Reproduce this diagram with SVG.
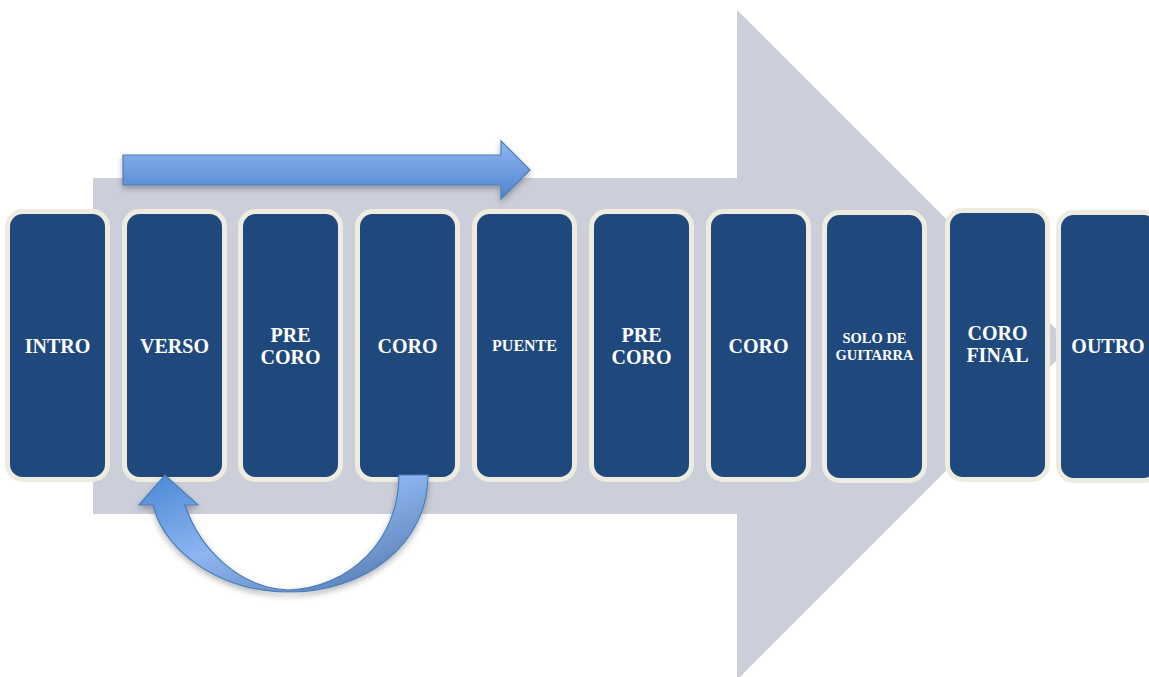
<svg xmlns="http://www.w3.org/2000/svg" width="1149" height="677" viewBox="0 0 1149 677">
<defs>
<linearGradient id="gStraight" x1="0" y1="0" x2="0" y2="1">
<stop offset="0" stop-color="#90B6F2"/>
<stop offset="1" stop-color="#4F84CC"/>
</linearGradient>
<linearGradient id="gCurve" x1="0" y1="0" x2="1" y2="1">
<stop offset="0" stop-color="#4A86D2"/>
<stop offset="0.45" stop-color="#8DB6F2"/>
<stop offset="0.75" stop-color="#6E92C8"/>
<stop offset="1" stop-color="#3B6BAA"/>
</linearGradient>
<filter id="sh" x="-10%" y="-10%" width="130%" height="140%">
<feDropShadow dx="0" dy="3" stdDeviation="3" flood-color="#000" flood-opacity="0.3"/>
</filter>
<style>
.box{fill:#1F497D;stroke:#EEECE1;stroke-width:5}
.t{fill:#FFFFFF;font-family:"Liberation Serif","DejaVu Serif",serif;font-weight:bold;text-anchor:middle}
.big{font-size:20px}
.mid{font-size:16px}
.sm{font-size:14.5px}
.arr{stroke:#4A7EBB;stroke-width:1.2;filter:url(#sh)}
</style>
</defs>
<rect width="1149" height="677" fill="#FFFFFF"/>
<polygon points="93,178 737,178 737,10 1072,345 737,680 737,514 93,514" fill="#CCCFD9"/>
<g id="connectors">
<path class="arr" fill="url(#gStraight)" d="M123,155 L501,155 L501,141 L530,170 L501,199 L501,185 L123,185 Z"/>
</g>
<g id="n1"><rect class="box" x="7.5" y="211.5" width="100" height="268" rx="15"/><text class="t big" x="57.5" y="353">INTRO</text></g>
<g id="n2"><rect class="box" x="124.5" y="211.5" width="100" height="268" rx="15"/><text class="t big" x="174.5" y="353">VERSO</text></g>
<g id="n3"><rect class="box" x="240.5" y="211.5" width="100" height="268" rx="15"/><text class="t big" x="290.5" y="342">PRE</text><text class="t big" x="290.5" y="364">CORO</text></g>
<g id="n4"><rect class="box" x="357.5" y="211.5" width="100" height="268" rx="15"/><text class="t big" x="407.5" y="353">CORO</text></g>
<g id="n5"><rect class="box" x="474.5" y="211.5" width="100" height="268" rx="15"/><text class="t mid" x="524.5" y="351">PUENTE</text></g>
<g id="n6"><rect class="box" x="591.5" y="211.5" width="100" height="268" rx="15"/><text class="t big" x="641.5" y="342">PRE</text><text class="t big" x="641.5" y="364">CORO</text></g>
<g id="n7"><rect class="box" x="708.5" y="211.5" width="100" height="268" rx="15"/><text class="t big" x="758.5" y="353">CORO</text></g>
<g id="n8"><rect class="box" x="824.5" y="212.5" width="100" height="268" rx="15"/><text class="t sm" x="874.5" y="343">SOLO DE</text><text class="t sm" x="874.5" y="360">GUITARRA</text></g>
<g id="n9"><rect class="box" x="947.5" y="210.5" width="100" height="269" rx="15"/><text class="t big" x="997.5" y="340">CORO</text><text class="t big" x="997.5" y="362">FINAL</text></g>
<g id="n10"><rect class="box" x="1058.5" y="212.5" width="100" height="268" rx="15"/><text class="t big" x="1108" y="353">OUTRO</text></g>
<g id="connectors2">
<path class="arr" fill="url(#gCurve)" d="M428,475 C428,545 365,592 288,592 C225,592 165,555 153,505 L139,505 L165,475 L198,505 L185,505 C200,550 240,588 288,590 C350,588 399,540 399,475 Z"/>
</g>
</svg>
